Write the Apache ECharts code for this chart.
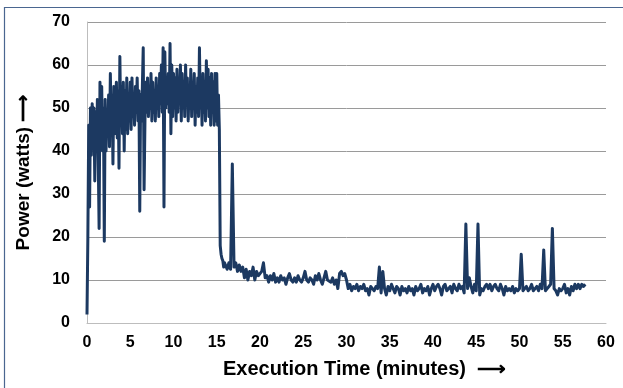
<!DOCTYPE html>
<html>
<head>
<meta charset="utf-8">
<script src="https://cdn.jsdelivr.net/npm/echarts@6/dist/echarts.min.js"></script>
<style>
  html, body { margin: 0; padding: 0; background: #fff; }
  #chart { width: 623px; height: 388px; }
</style>
</head>
<body>
<div id="chart"></div>
<script>
// power samples (watts) during the compute burst, one every 0.1 min from t = 0
const burstStep = 0.1;
const burstPower = [
  2, 20, 46, 27, 50, 39, 51, 42, 50, 33,
  49, 40, 52, 38, 22, 56, 41, 55, 40, 50,
  19, 52, 40, 49, 44, 53, 41, 58, 45, 53,
  37, 55, 44, 52, 56, 43, 54, 36, 62, 46,
  55, 44, 56, 40, 54, 45, 57, 44, 52, 47,
  56, 45, 57, 48, 53, 46, 55, 49, 57, 47,
  54, 26, 53, 47, 55, 64, 31, 47, 56, 49,
  57, 48, 55, 50, 58, 47, 56, 49, 54, 47,
  57, 50, 55, 48, 58, 51, 60, 49, 64, 27,
  63, 50, 57, 51, 58, 49, 65, 44, 60, 48,
  58, 50, 57, 47, 59, 49, 56, 52, 60, 47,
  58, 50, 56, 48, 60, 51, 57, 47, 55, 50,
  59, 48, 56, 51, 58, 46, 55, 49, 57, 48,
  64, 50, 56, 46, 58, 49, 55, 47, 61, 50,
  59, 48, 57, 46, 58, 49, 56, 46, 58, 47,
  58, 46, 53, 45, 18, 16, 15, 14.5, 13, 14
];

// power samples after the burst, one every 0.2 min from t = 16
const idleStart = 16;
const idleStep = 0.2;
const idlePower = [
  14, 12.5, 14, 12.5, 37, 13, 14, 12, 13.5, 12,
  13, 10.5, 12.5, 10, 12, 11, 13, 10, 12, 11,
  11, 12, 14, 10.5, 11, 9.5, 11, 10, 11.5, 9.5,
  10.5, 9.5, 11, 10, 10.5, 9, 10.5, 11.5, 10, 9.5,
  10.5, 9.5, 11, 10, 9.5, 10.5, 12, 10, 9.5, 10.5,
  10, 9, 11, 10, 11.5, 10, 9, 10.5, 12, 10,
  10, 9.5, 10.5, 9, 10, 8, 11.5, 12, 11, 11.5,
  10, 8, 9, 7.5, 8.5, 8, 9, 7.5, 8.5, 8,
  9, 7.5, 8, 6.5, 8.5, 8, 7.5, 8.5, 8, 13,
  7, 12, 8, 6.5, 8.5, 7.5, 9, 8, 7, 8.5,
  8, 6.5, 8.5, 7.5, 8, 7, 8.5, 7.5, 8, 6.5,
  8.5, 7.5, 8, 9, 7, 8, 7.5, 8.5, 6.5, 8,
  9, 7.5, 8.5, 9, 8, 6.5, 8.5, 9, 7.5, 8,
  8.5, 7, 9, 8, 7.5, 9, 8, 8.5, 7, 23,
  8, 10.5, 8.5, 7, 9, 7.5, 23, 6.5, 8, 7.5,
  8.5, 9, 8, 9, 7.5, 8.5, 9, 8, 7.5, 9,
  8, 6.5, 8.5, 7.5, 8, 7.5, 8.5, 7, 8, 7.5,
  8, 16, 7.5, 8, 8.5, 7.5, 8, 9, 7.5, 8,
  8.5, 7.5, 9, 8, 17, 7.5, 8, 8.5, 9, 22,
  8, 7.5, 6.5, 8, 7.5, 8, 9, 7, 8, 6.5,
  8.5, 7.5, 9, 8, 9, 8, 9, 8.5, 9
];

const xTicks = [0, 5, 10, 15, 20, 25, 30, 35, 40, 45, 50, 55, 60];
const yTicks = [0, 10, 20, 30, 40, 50, 60, 70];

const points = [];
burstPower.forEach((p, i) => points.push([+(i * burstStep).toFixed(2), p]));
idlePower.forEach((p, i) => points.push([+(idleStart + i * idleStep).toFixed(2), p]));

const font = '"Liberation Sans", Arial, sans-serif';
const chart = echarts.init(document.getElementById('chart'), null, { renderer: 'canvas' });
chart.setOption({
  animation: false,
  grid: { left: 87, right: 17, top: 22, bottom: 65 },
  graphic: [
    {
      type: 'rect',
      shape: { x: 4.5, y: 7.5, width: 640, height: 400 },
      style: { fill: 'none', stroke: '#4a6690', lineWidth: 1.2 },
      silent: true
    }
  ],
  xAxis: {
    type: 'value',
    min: xTicks[0],
    max: xTicks[xTicks.length - 1],
    interval: 5,
    name: 'Execution Time (minutes)  \u27F6',
    nameLocation: 'middle',
    nameGap: 36,
    nameTextStyle: { fontFamily: font, fontWeight: 'bold', fontSize: 20, color: '#000', padding: [0, 0, 0, 36] },
    axisLine: { show: true, lineStyle: { color: '#bdbdbd', width: 1 } },
    axisTick: { show: false },
    splitLine: { show: false },
    axisLabel: { fontFamily: font, fontWeight: 'bold', fontSize: 16, color: '#000', margin: 12 }
  },
  yAxis: {
    type: 'value',
    min: yTicks[0],
    max: yTicks[yTicks.length - 1],
    interval: 10,
    name: 'Power (watts) \u27F6',
    nameLocation: 'middle',
    nameGap: 54,
    nameRotate: 90,
    nameTextStyle: { fontFamily: font, fontWeight: 'bold', fontSize: 19, color: '#000' },
    axisLine: { show: true, lineStyle: { color: '#bdbdbd', width: 1 } },
    axisTick: { show: false },
    splitLine: { show: true, lineStyle: { color: '#9a9a9a', width: 1 } },
    axisLabel: { fontFamily: font, fontWeight: 'bold', fontSize: 16, color: '#000', margin: 17 }
  },
  series: [
    {
      type: 'line',
      data: points,
      showSymbol: false,
      symbol: 'none',
      lineStyle: { color: '#1c3961', width: 3, join: 'round' },
      z: 3
    }
  ]
});
</script>
</body>
</html>
